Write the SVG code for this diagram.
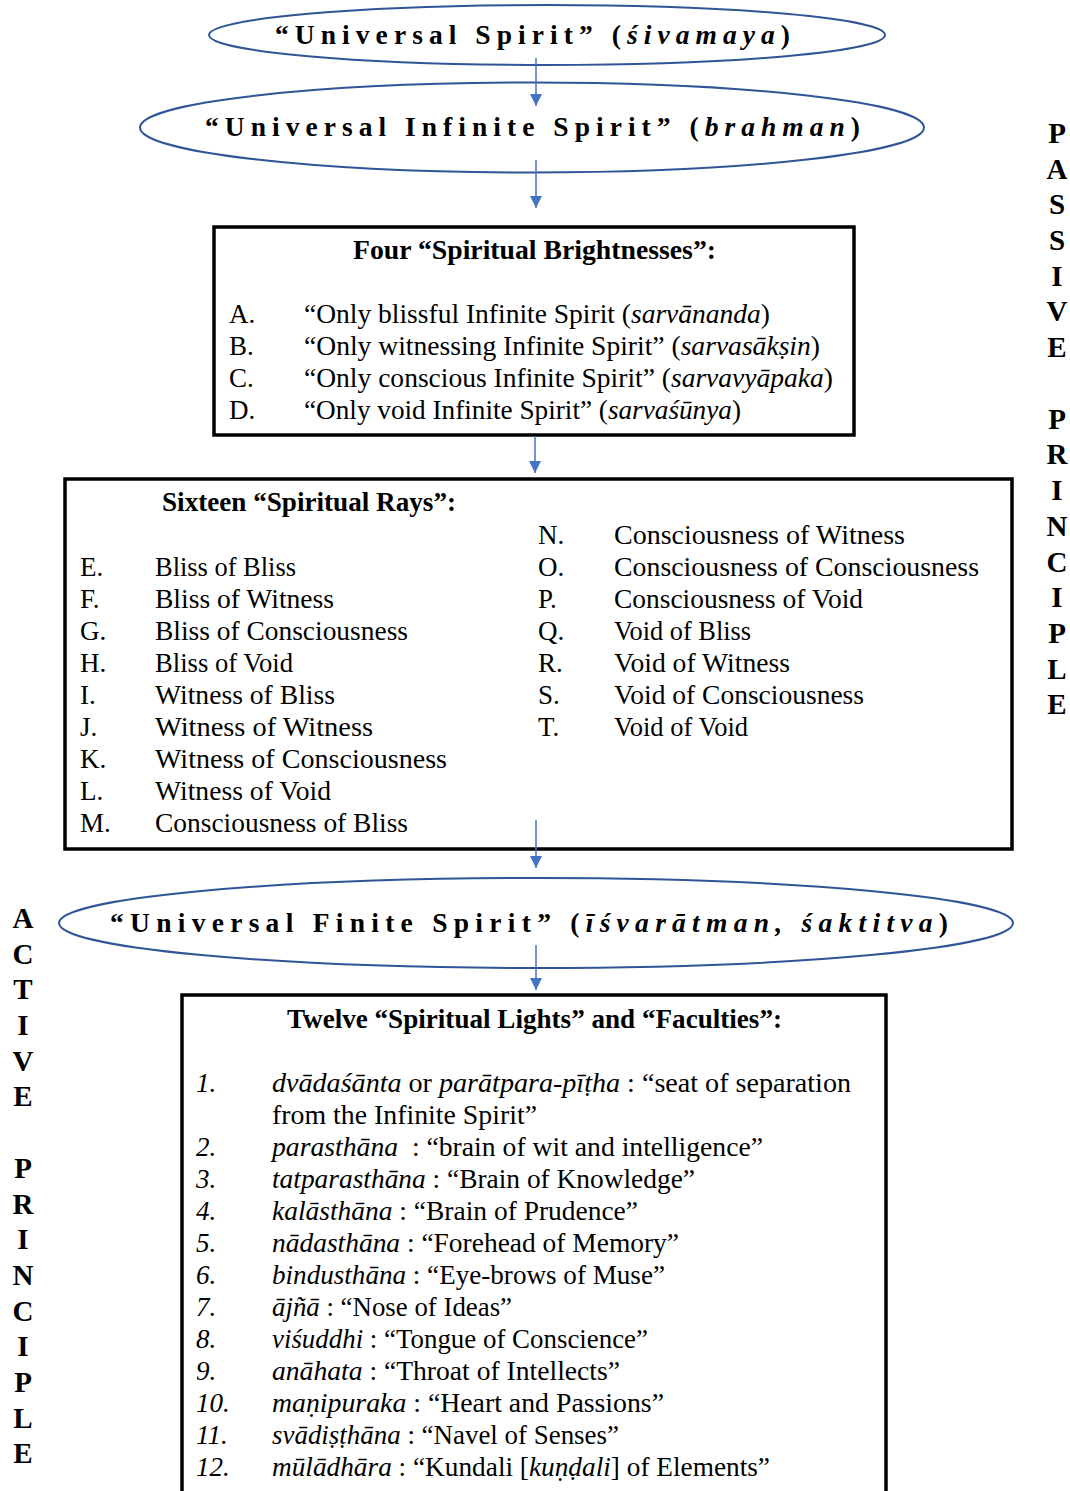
<svg xmlns="http://www.w3.org/2000/svg" width="1070" height="1491" viewBox="0 0 1070 1491">
<style>
text{font-family:"Liberation Serif","Times New Roman",serif;fill:#000}
.t{font-size:27px}
.b{font-weight:bold}
.i{font-style:italic}
.el{fill:#fff;stroke:#2F5597;stroke-width:2}
.box{fill:#fff;stroke:#000;stroke-width:3.5}
.et{font-size:27.5px;font-weight:bold}
.side{font-size:29px;font-weight:bold;text-anchor:middle}
.arr{stroke:#4472C4;stroke-width:1.5;fill:none}
</style>
<defs>
<marker id="ah" markerUnits="userSpaceOnUse" markerWidth="12" markerHeight="12" refX="10" refY="5" orient="auto" viewBox="0 0 10 10">
<path d="M0,0 L10,5 L0,10 Z" fill="#4472C4"/>
</marker>
</defs>
<rect width="1070" height="1491" fill="#fff"/>

<g id="n-univ-spirit">
<ellipse class="el" cx="547" cy="35" rx="338" ry="30"/>
<text class="et" x="275" y="44" textLength="515" lengthAdjust="spacing">“Universal Spirit” (<tspan class="i">śivamaya</tspan>)</text>
</g>

<g id="n-univ-infinite">
<ellipse class="el" cx="532" cy="127.5" rx="392" ry="45"/>
<text class="et" x="205" y="136" textLength="655" lengthAdjust="spacing">“Universal Infinite Spirit” (<tspan class="i">brahman</tspan>)</text>
</g>

<g id="n-four-brightnesses">
<rect class="box" x="214" y="227" width="640" height="208"/>
<text class="t b" x="353" y="259" textLength="363" lengthAdjust="spacingAndGlyphs">Four “Spiritual Brightnesses”:</text>
<text class="t" x="229" y="323">A.</text>
<text class="t" x="304" y="323" textLength="466" lengthAdjust="spacingAndGlyphs">“Only blissful Infinite Spirit (<tspan class="i">sarvānanda</tspan>)</text>
<text class="t" x="229" y="355">B.</text>
<text class="t" x="304" y="355" textLength="516" lengthAdjust="spacingAndGlyphs">“Only witnessing Infinite Spirit” (<tspan class="i">sarvasākṣin</tspan>)</text>
<text class="t" x="229" y="387">C.</text>
<text class="t" x="304" y="387" textLength="529" lengthAdjust="spacingAndGlyphs">“Only conscious Infinite Spirit” (<tspan class="i">sarvavyāpaka</tspan>)</text>
<text class="t" x="229" y="419">D.</text>
<text class="t" x="304" y="419" textLength="437" lengthAdjust="spacingAndGlyphs">“Only void Infinite Spirit” (<tspan class="i">sarvaśūnya</tspan>)</text>
</g>

<g id="n-sixteen-rays">
<rect class="box" x="65" y="479" width="947" height="370"/>
<text class="t b" x="162" y="511" textLength="294" lengthAdjust="spacingAndGlyphs">Sixteen “Spiritual Rays”:</text>
<text class="t" x="80" y="576">E.</text><text class="t" x="155" y="576" textLength="141" lengthAdjust="spacingAndGlyphs">Bliss of Bliss</text>
<text class="t" x="80" y="608">F.</text><text class="t" x="155" y="608" textLength="179" lengthAdjust="spacingAndGlyphs">Bliss of Witness</text>
<text class="t" x="80" y="640">G.</text><text class="t" x="155" y="640" textLength="253" lengthAdjust="spacingAndGlyphs">Bliss of Consciousness</text>
<text class="t" x="80" y="672">H.</text><text class="t" x="155" y="672" textLength="138" lengthAdjust="spacingAndGlyphs">Bliss of Void</text>
<text class="t" x="80" y="704">I.</text><text class="t" x="155" y="704" textLength="180" lengthAdjust="spacingAndGlyphs">Witness of Bliss</text>
<text class="t" x="80" y="736">J.</text><text class="t" x="155" y="736" textLength="218" lengthAdjust="spacingAndGlyphs">Witness of Witness</text>
<text class="t" x="80" y="768">K.</text><text class="t" x="155" y="768" textLength="292" lengthAdjust="spacingAndGlyphs">Witness of Consciousness</text>
<text class="t" x="80" y="800">L.</text><text class="t" x="155" y="800" textLength="176" lengthAdjust="spacingAndGlyphs">Witness of Void</text>
<text class="t" x="80" y="832">M.</text><text class="t" x="155" y="832" textLength="253" lengthAdjust="spacingAndGlyphs">Consciousness of Bliss</text>
<text class="t" x="538" y="544">N.</text><text class="t" x="614" y="544" textLength="291" lengthAdjust="spacingAndGlyphs">Consciousness of Witness</text>
<text class="t" x="538" y="576">O.</text><text class="t" x="614" y="576" textLength="365" lengthAdjust="spacingAndGlyphs">Consciousness of Consciousness</text>
<text class="t" x="538" y="608">P.</text><text class="t" x="614" y="608" textLength="249" lengthAdjust="spacingAndGlyphs">Consciousness of Void</text>
<text class="t" x="538" y="640">Q.</text><text class="t" x="614" y="640" textLength="137" lengthAdjust="spacingAndGlyphs">Void of Bliss</text>
<text class="t" x="538" y="672">R.</text><text class="t" x="614" y="672" textLength="176" lengthAdjust="spacingAndGlyphs">Void of Witness</text>
<text class="t" x="538" y="704">S.</text><text class="t" x="614" y="704" textLength="250" lengthAdjust="spacingAndGlyphs">Void of Consciousness</text>
<text class="t" x="538" y="736">T.</text><text class="t" x="614" y="736" textLength="134" lengthAdjust="spacingAndGlyphs">Void of Void</text>
</g>

<g id="n-univ-finite">
<ellipse class="el" cx="536" cy="923" rx="477" ry="45"/>
<text class="et" x="110" y="932" textLength="838" lengthAdjust="spacing">“Universal Finite Spirit” (<tspan class="i">īśvarātman, śaktitva</tspan>)</text>
</g>

<g id="n-twelve-lights">
<rect class="box" x="182" y="995" width="704" height="510"/>
<text class="t b" x="287" y="1028" textLength="495" lengthAdjust="spacingAndGlyphs">Twelve “Spiritual Lights” and “Faculties”:</text>
<text class="t i" x="196" y="1092">1.</text>
<text class="t" x="272" y="1092" textLength="579" lengthAdjust="spacingAndGlyphs"><tspan class="i">dvādaśānta</tspan> or <tspan class="i">parātpara-pīṭha</tspan> : “seat of separation</text>
<text class="t" x="272" y="1124" textLength="265" lengthAdjust="spacingAndGlyphs">from the Infinite Spirit”</text>
<text class="t i" x="196" y="1156">2.</text>
<text class="t" x="272" y="1156" textLength="491" lengthAdjust="spacingAndGlyphs"><tspan class="i">parasthāna</tspan>&#160; : “brain of wit and intelligence”</text>
<text class="t i" x="196" y="1188">3.</text>
<text class="t" x="272" y="1188" textLength="423" lengthAdjust="spacingAndGlyphs"><tspan class="i">tatparasthāna</tspan> : “Brain of Knowledge”</text>
<text class="t i" x="196" y="1220">4.</text>
<text class="t" x="272" y="1220" textLength="366" lengthAdjust="spacingAndGlyphs"><tspan class="i">kalāsthāna</tspan> : “Brain of Prudence”</text>
<text class="t i" x="196" y="1252">5.</text>
<text class="t" x="272" y="1252" textLength="407" lengthAdjust="spacingAndGlyphs"><tspan class="i">nādasthāna</tspan> : “Forehead of Memory”</text>
<text class="t i" x="196" y="1284">6.</text>
<text class="t" x="272" y="1284" textLength="393" lengthAdjust="spacingAndGlyphs"><tspan class="i">bindusthāna</tspan> : “Eye-brows of Muse”</text>
<text class="t i" x="196" y="1316">7.</text>
<text class="t" x="272" y="1316" textLength="240" lengthAdjust="spacingAndGlyphs"><tspan class="i">ājñā</tspan> : “Nose of Ideas”</text>
<text class="t i" x="196" y="1348">8.</text>
<text class="t" x="272" y="1348" textLength="376" lengthAdjust="spacingAndGlyphs"><tspan class="i">viśuddhi</tspan> : “Tongue of Conscience”</text>
<text class="t i" x="196" y="1380">9.</text>
<text class="t" x="272" y="1380" textLength="348" lengthAdjust="spacingAndGlyphs"><tspan class="i">anāhata</tspan> : “Throat of Intellects”</text>
<text class="t i" x="196" y="1412">10.</text>
<text class="t" x="272" y="1412" textLength="392" lengthAdjust="spacingAndGlyphs"><tspan class="i">maṇipuraka</tspan> : “Heart and Passions”</text>
<text class="t i" x="196" y="1444">11.</text>
<text class="t" x="272" y="1444" textLength="347" lengthAdjust="spacingAndGlyphs"><tspan class="i">svādiṣṭhāna</tspan> : “Navel of Senses”</text>
<text class="t i" x="196" y="1476">12.</text>
<text class="t" x="272" y="1476" textLength="498" lengthAdjust="spacingAndGlyphs"><tspan class="i">mūlādhāra</tspan> : “Kundali [<tspan class="i">kuṇḍali</tspan>] of Elements”</text>
</g>

<g id="connectors">
<line class="arr" x1="536" y1="58" x2="536" y2="106" marker-end="url(#ah)"/>
<line class="arr" x1="536" y1="160" x2="536" y2="208" marker-end="url(#ah)"/>
<line class="arr" x1="535" y1="436" x2="535" y2="473" marker-end="url(#ah)"/>
<line class="arr" x1="536" y1="820" x2="536" y2="868" marker-end="url(#ah)"/>
<line class="arr" x1="536" y1="945" x2="536" y2="990" marker-end="url(#ah)"/>
</g>

<g id="label-passive">
<text class="side" x="1057" y="143">P</text>
<text class="side" x="1057" y="179">A</text>
<text class="side" x="1057" y="214">S</text>
<text class="side" x="1057" y="250">S</text>
<text class="side" x="1057" y="286">I</text>
<text class="side" x="1057" y="321">V</text>
<text class="side" x="1057" y="357">E</text>
<text class="side" x="1057" y="429">P</text>
<text class="side" x="1057" y="464">R</text>
<text class="side" x="1057" y="500">I</text>
<text class="side" x="1057" y="536">N</text>
<text class="side" x="1057" y="572">C</text>
<text class="side" x="1057" y="607">I</text>
<text class="side" x="1057" y="643">P</text>
<text class="side" x="1057" y="679">L</text>
<text class="side" x="1057" y="714">E</text>
</g>

<g id="label-active">
<text class="side" x="23" y="928">A</text>
<text class="side" x="23" y="964">C</text>
<text class="side" x="23" y="999">T</text>
<text class="side" x="23" y="1035">I</text>
<text class="side" x="23" y="1071">V</text>
<text class="side" x="23" y="1106">E</text>
<text class="side" x="23" y="1178">P</text>
<text class="side" x="23" y="1214">R</text>
<text class="side" x="23" y="1249">I</text>
<text class="side" x="23" y="1285">N</text>
<text class="side" x="23" y="1321">C</text>
<text class="side" x="23" y="1356">I</text>
<text class="side" x="23" y="1392">P</text>
<text class="side" x="23" y="1428">L</text>
<text class="side" x="23" y="1463">E</text>
</g>
</svg>
